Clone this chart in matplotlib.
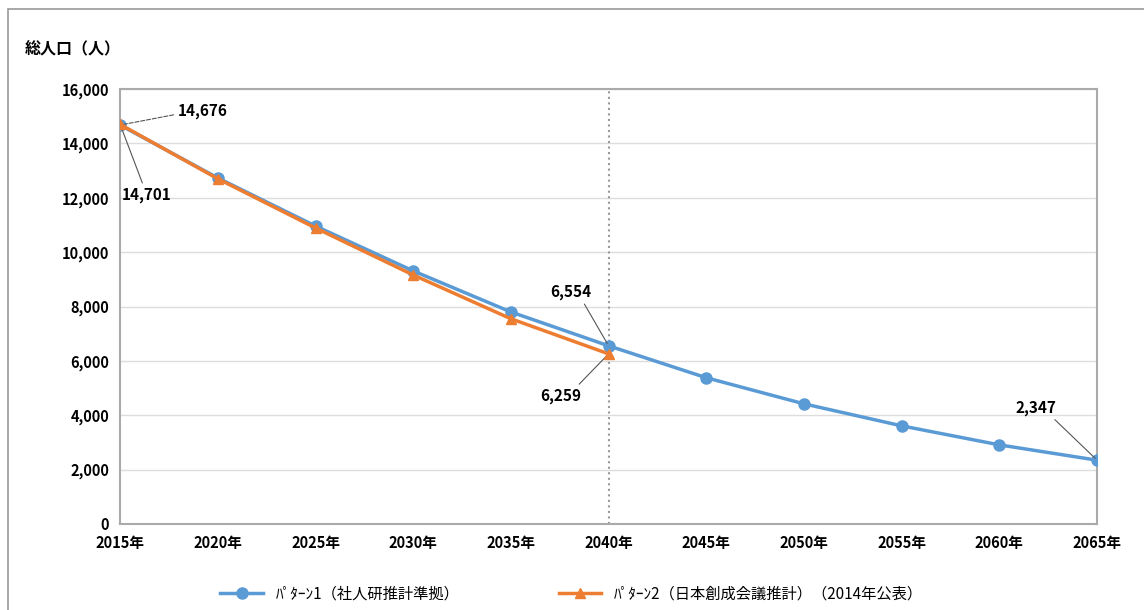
import matplotlib.pyplot as plt
from matplotlib.patches import Rectangle

plt.rcParams['font.family'] = ['Noto Sans CJK JP', 'DejaVu Sans']

years = [2015, 2020, 2025, 2030, 2035, 2040, 2045, 2050, 2055, 2060, 2065]
pattern1 = [14676, 12730, 10960, 9310, 7800, 6554, 5380, 4420, 3610, 2910, 2347]
years2 = [2015, 2020, 2025, 2030, 2035, 2040]
pattern2 = [14701, 12700, 10890, 9160, 7550, 6259]
xlabels = ['%d年' % y for y in years]
label1 = 'ﾊﾟﾀｰﾝ1（社人研推計準拠）'
label2 = 'ﾊﾟﾀｰﾝ2（日本創成会議推計）（2014年公表）'

blue = '#5B9BD5'
orange = '#ED7D31'

fig = plt.figure(figsize=(11.44, 6.10), dpi=100)
ax = fig.add_axes([0.105, 0.141, 0.854, 0.713])

ax.plot(years, pattern1, '-o', color=blue, lw=2.5, ms=8, label=label1, zorder=3)
ax.plot(years2, pattern2, '-^', color=orange, lw=2.5, ms=7, label=label2, zorder=4)

ax.axvline(2040, color='#999999', ls=':', lw=1.5, zorder=1)

ax.set_xlim(2015, 2065)
ax.set_ylim(0, 16000)
ax.set_xticks(years)
ax.set_xticklabels(xlabels)
ax.set_yticks(range(0, 16001, 2000))
ax.set_yticklabels(['{:,}'.format(v) for v in range(0, 16001, 2000)])
ax.tick_params(length=0, labelsize=10.5, pad=8)
for t in ax.get_xticklabels() + ax.get_yticklabels():
    t.set_fontweight('bold')
ax.grid(axis='y', color='#dddddd', lw=1)
ax.set_axisbelow(True)
for s in ax.spines.values():
    s.set_color('#aaaaaa')
    s.set_linewidth(1.5)


# data labels with Excel-like leader lines
def note(text, xy, xytext, ha='right', ls='-', conn='arc,angleA=0,armA=7,armB=0,rad=0'):
    ax.annotate(text, xy=xy, xytext=xytext, textcoords='data', fontsize=11, fontweight='bold',
                ha=ha, va='center',
                arrowprops=dict(arrowstyle='-', color='#555555', lw=0.8, ls=ls,
                                shrinkA=1, shrinkB=2, connectionstyle=conn))


note('{:,}'.format(pattern1[0]), (years[0], pattern1[0]), (2017.95, 15200), ha='left', ls='--',
     conn='arc,angleA=180,armA=8,armB=0,rad=0')
note('{:,}'.format(pattern2[0]), (years2[0], pattern2[0]), (2015.1, 12100), ha='left',
     conn='arc3,rad=0')
note('{:,}'.format(pattern1[5]), (years[5], pattern1[5]), (2039.1, 8530))
note('{:,}'.format(pattern2[5]), (years2[5], pattern2[5]), (2038.6, 4710))
note('{:,}'.format(pattern1[10]), (years[10], pattern1[10]), (2062.9, 4270))

fig.text(0.022, 0.921, '総人口（人）', fontsize=11.5, fontweight='bold', ha='left', va='center')

ax.legend(loc='upper center', bbox_to_anchor=(0.462, -0.11), ncol=2, frameon=False,
          fontsize=11, columnspacing=6.5, handlelength=2.8)

fig.patches.append(Rectangle((0.007, -0.01), 1.2, 0.995, transform=fig.transFigure,
                             fill=False, edgecolor='#999999', lw=1.2))

fig.savefig('out.png', dpi=100)
